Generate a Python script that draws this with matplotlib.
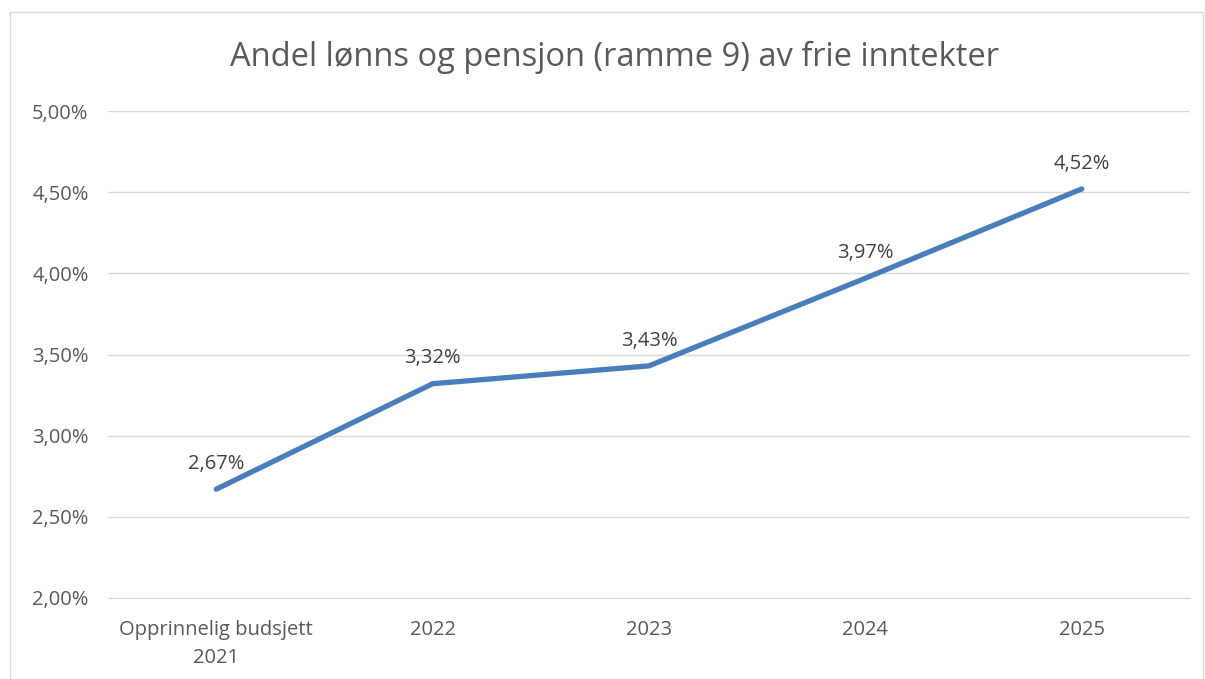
import matplotlib
matplotlib.use("Agg")
import matplotlib.pyplot as plt
from matplotlib.patches import Rectangle

categories = ["Opprinnelig budsjett\n2021", "2022", "2023", "2024", "2025"]
values = [2.67, 3.32, 3.43, 3.97, 4.52]
yticks = [2.0, 2.5, 3.0, 3.5, 4.0, 4.5, 5.0]
title = "Andel lønns og pensjon (ramme 9) av frie inntekter"

plt.rcParams['font.family'] = ['Open Sans', 'DejaVu Sans']

fig = plt.figure(figsize=(12.05, 6.79), dpi=100)
fig.patches.append(Rectangle((10/1205, -0.01), 1193/1205, 1 - 12/679 + 0.01,
                             transform=fig.transFigure, fill=False,
                             edgecolor='#d9d9d9', linewidth=1))
ax = fig.add_axes([108/1205, 1 - 598/679, (1190 - 108)/1205, (598 - 111)/679])

x = list(range(len(categories)))
ax.plot(x, values, color='#4a7ebb', linewidth=3.8, solid_capstyle='round', zorder=3)
for xi, v in zip(x, values):
    ax.annotate(f"{v:.2f}%".replace('.', ','), (xi, v), xytext=(0, 11),
                textcoords='offset points', ha='center', va='bottom',
                fontsize=14.5, color='#404040')

ax.set_xlim(-0.5, len(categories) - 0.5)
ax.set_ylim(yticks[0], yticks[-1])
ax.set_yticks(yticks)
ax.set_yticklabels([f"{t:.2f}%".replace('.', ',') for t in yticks])
ax.set_xticks(x)
ax.set_xticklabels(categories, linespacing=1.5)
ax.grid(axis='y', color='#d9d9d9', linewidth=1)
ax.set_axisbelow(True)
for s in ['top', 'right', 'left']:
    ax.spines[s].set_visible(False)
ax.spines['bottom'].set_color('#d9d9d9')
ax.tick_params(axis='both', length=0, labelsize=14.5, colors='#595959')
ax.tick_params(axis='x', pad=16)
ax.tick_params(axis='y', pad=14)

fig.text(614/1205, 1 - 57/679, title, ha='center', va='center',
         fontsize=23.5, color='#595959')

fig.savefig("out.png", dpi=100)
